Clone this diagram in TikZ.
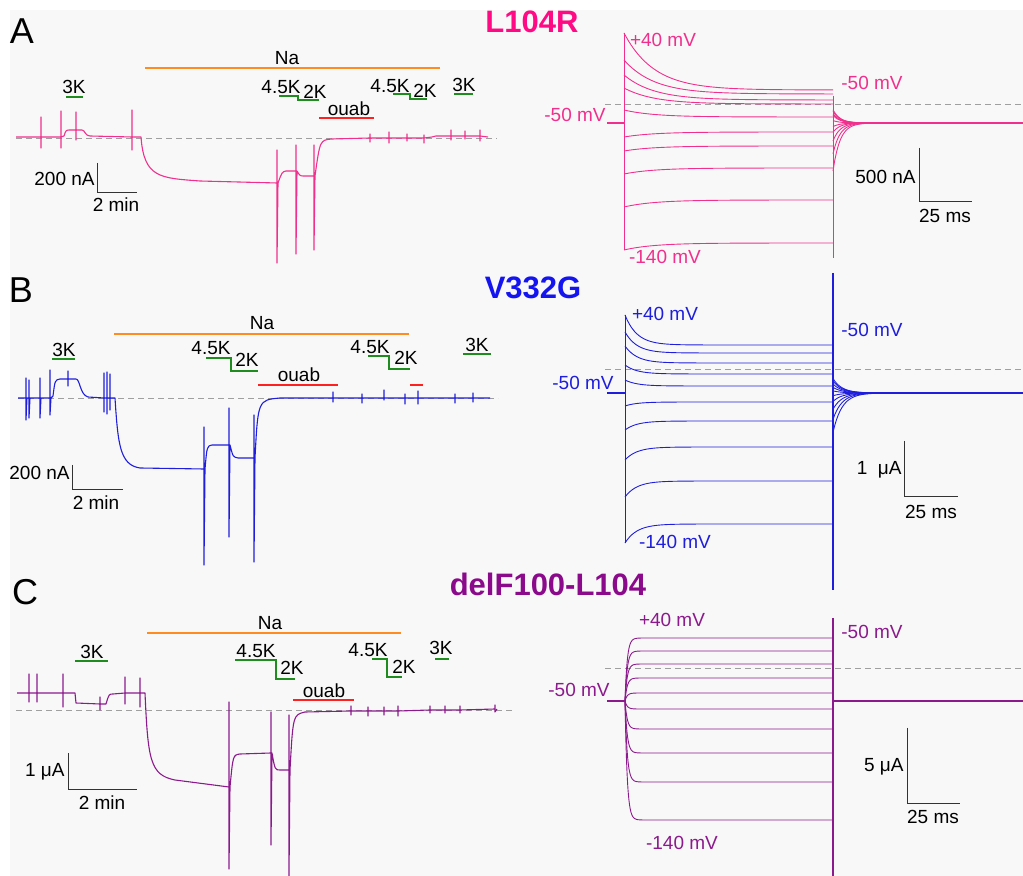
\documentclass[tikz,border=0pt]{standalone}
\usepackage{fontspec}
\setmainfont{Liberation Sans}
\usetikzlibrary{positioning}

\definecolor{bgc}{HTML}{F8F8F8}
\definecolor{pinkT}{HTML}{F0308C}
\definecolor{pinkH}{HTML}{FF0A84}
\definecolor{blueT}{HTML}{1E1EDC}
\definecolor{blueH}{HTML}{1414F0}
\definecolor{purpT}{HTML}{8C1A8C}
\definecolor{purpH}{HTML}{8B0A8B}
\definecolor{orangeC}{HTML}{FF8C1E}
\definecolor{greenC}{HTML}{1E8C1E}
\definecolor{redC}{HTML}{FF2020}

\begin{document}
\begin{tikzpicture}[x=0.5pt,y=-0.5pt]
    % Define styles
    \tikzstyle{lbl} = [inner sep=0pt, font=\fontsize{9.5}{11}\selectfont]
    \tikzstyle{panel} = [inner sep=0pt, font=\fontsize{18}{20}\selectfont]
    \tikzstyle{title} = [inner sep=0pt, font=\fontsize{15.5}{18}\selectfont\bfseries]
    \tikzstyle{base} = [gray!75, dash pattern=on 3pt off 2pt, line width=0.45pt]
    \tikzstyle{scalebar} = [black!80, line width=0.5pt]
    \tikzstyle{nabar} = [orangeC, line width=1pt]
    \tikzstyle{kbar} = [greenC, line width=1pt]
    \tikzstyle{oubar} = [redC, line width=1pt]
    \tikzstyle{slow} = [line width=0.55pt, line join=round]
    \tikzstyle{fast} = [line width=0.45pt, line join=round]

    \useasboundingbox (0,0) rectangle (1023,876);
    \fill[bgc] (10,10) rectangle (1023,876);

    % ---------------- Panel A ----------------
    \node[panel] (panA) at (22,31) {A};
    \node[title, text=pinkH] (titA) at (532,22) {L104R};
    \node[lbl] (naA) at (287,58) {Na};
    \draw[nabar] (145,68) -- (440,68);
    \node[lbl] (k3aA) at (74,87) {3K};
    \draw[kbar] (66,97) -- (83,97);
    \node[lbl] (k45aA) at (281,87) {4.5K};
    \node[lbl] (k2aA) at (315,92) {2K};
    \draw[kbar] (279,96) -- (298,96) -- (298,100) -- (319,100);
    \node[lbl] (ouA) at (349,109) {ouab};
    \draw[oubar] (319,118) -- (374,118);
    \node[lbl] (k45bA) at (390,86) {4.5K};
    \node[lbl] (k2bA) at (425,91) {2K};
    \draw[kbar] (393,94) -- (410,94) -- (410,99) -- (427,99);
    \node[lbl] (k3bA) at (464,85) {3K};
    \draw[kbar] (454,94) -- (473,94);
    \draw[base] (16,138) -- (497,138);
    \draw[slow, pinkT] (16,137) -- (41,137) -- (41,117) -- (41,148) -- (41,137) -- (61,137) -- (61,111) -- (61,148) -- (61,137)
        -- (64,136) .. controls (66,130) .. (70,130) -- (76,130) -- (76,112) -- (76,140) -- (76,130) -- (82,130)
        .. controls (85,130) and (85,136) .. (90,136) -- (132,137) -- (132,110) -- (132,150) -- (132,137) -- (141,137)
        .. controls (144,178) and (160,178) .. (200,181) -- (277,183) -- (277,150) -- (277,263) -- (278,183)
        .. controls (282,172) .. (286,171) -- (296,171) -- (296,145) -- (296,254) -- (297,171)
        .. controls (300,176) .. (304,176) -- (314,176) -- (314,145) -- (314,250) -- (315,176)
        .. controls (320,140) .. (332,139) -- (370,138) -- (370,134) -- (370,142) -- (370,138)
        -- (389,138) -- (389,132) -- (389,143) -- (389,138) -- (407,138) -- (407,134) -- (407,141) -- (407,138)
        -- (424,138) -- (424,135) -- (424,143) -- (424,138) -- (432,137) -- (436,136)
        -- (451,136) -- (451,130) -- (451,140) -- (451,136) -- (465,136) -- (465,131) -- (465,139) -- (465,136)
        -- (480,136) -- (480,130) -- (480,141) -- (480,136) -- (488,137);
    \draw[scalebar] (97,163) -- (97,193) -- (137,193);
    \node[lbl, anchor=east] (yscA) at (95,179) {200 nA};
    \node[lbl] (xscA) at (116,205) {2 min};
    % steps A
    \draw[base] (605,104) -- (1023,104);
    \foreach \lv/\pk in {90/33, 94/60, 100/75, 104/88, 117/110, 132/137, 146/151, 168/174, 200/207, 243/250} {
        \draw[fast, pinkT] plot[domain=0:209, samples=90] ({624+\x}, {\lv+(\pk-\lv)*exp(-\x/30)});
        \draw[fast, pinkT] plot[domain=0:70, samples=40] ({833+\x}, {123+(\lv-123)*0.4*exp(-\x/7)});
    }
    \draw[fast, pinkT] (624,33) -- (624,250);
    \draw[fast, pinkT] (833,96) -- (833,258);
    \draw[pinkT, line width=0.9pt] (607,123) -- (624,123);
    \draw[pinkT, line width=0.9pt] (850,123) -- (1023,123);
    \node[lbl, text=pinkT] (hiA) at (663,40) {+40 mV};
    \node[lbl, text=pinkT] (rtA) at (872,83) {-50 mV};
    \node[lbl, text=pinkT] (hdA) at (575,115) {-50 mV};
    \node[lbl, text=pinkT] (loA) at (665,257) {-140 mV};
    \draw[scalebar] (919,148) -- (919,202) -- (972,202);
    \node[lbl, anchor=east] (ysA) at (916,177) {500 nA};
    \node[lbl] (xsA) at (945,216) {25 ms};

    % ---------------- Panel B ----------------
    \node[panel] (panB) at (21,290) {B};
    \node[title, text=blueH] (titB) at (533,288) {V332G};
    \node[lbl] (naB) at (262,323) {Na};
    \draw[nabar] (114,334) -- (409,334);
    \node[lbl] (k3aB) at (64,350) {3K};
    \draw[kbar] (52,359) -- (75,359);
    \node[lbl] (k45aB) at (211,348) {4.5K};
    \node[lbl] (k2aB) at (247,360) {2K};
    \draw[kbar] (206,358) -- (231,358) -- (231,371) -- (258,371);
    \node[lbl] (ouB) at (299,375) {ouab};
    \draw[oubar] (258,385) -- (338,385);
    \node[lbl] (k45bB) at (370,347) {4.5K};
    \node[lbl] (k2bB) at (406,358) {2K};
    \draw[kbar] (368,356) -- (389,356) -- (389,369) -- (410,369);
    \draw[oubar] (410,385) -- (423,385);
    \node[lbl] (k3bB) at (477,345) {3K};
    \draw[kbar] (463,354) -- (491,354);
    \draw[base] (18,398) -- (498,398);
    \draw[slow, blueT] (18,398) -- (26,398) -- (26,378) -- (26,420) -- (27,398) -- (29,398) -- (29,380) -- (29,418) -- (30,398)
        -- (40,398) -- (40,378) -- (40,418) -- (41,398) -- (50,398) -- (50,370) -- (50,415) -- (51,398)
        -- (53,396) .. controls (55,380) .. (60,379) -- (68,379) -- (68,371) -- (68,386) -- (68,379) -- (76,379)
        .. controls (80,379) and (80,395) .. (88,397) -- (104,398) -- (104,373) -- (104,412) -- (104,398)
        -- (107,398) -- (107,372) -- (107,414) -- (107,398) -- (110,398) -- (110,374) -- (110,410) -- (110,398) -- (115,398)
        .. controls (118,445) and (120,465) .. (140,468) -- (204,469) -- (204,427) -- (204,565) -- (205,469)
        .. controls (207,446) .. (212,445) -- (229,445) -- (229,408) -- (229,537) -- (230,445)
        .. controls (233,457) .. (238,458) -- (254,458) -- (254,415) -- (254,562) -- (255,458)
        .. controls (258,400) .. (280,398) -- (333,398) -- (333,392) -- (333,402) -- (333,398)
        -- (362,398) -- (362,394) -- (362,403) -- (362,398) -- (384,398) -- (384,390) -- (384,400) -- (384,398)
        -- (405,398) -- (405,394) -- (405,404) -- (405,398) -- (418,398) -- (418,391) -- (418,404) -- (418,398)
        -- (455,398) -- (455,394) -- (455,403) -- (455,398) -- (473,398) -- (473,393) -- (473,402) -- (473,398) -- (490,398);
    \draw[scalebar] (72,465) -- (72,490) -- (123,490);
    \node[lbl, anchor=east] (yscB) at (70,473) {200 nA};
    \node[lbl] (xscB) at (96,503) {2 min};
    % steps B
    \draw[base] (605,369) -- (1023,369);
    \foreach \lv/\pk in {345/315, 353/332, 363/346, 374/365, 386/380, 402/406, 421/430, 447/460, 481/497, 524/543} {
        \draw[fast, blueT] plot[domain=0:208, samples=90] ({625+\x}, {\lv+(\pk-\lv)*exp(-\x/12)});
        \draw[fast, blueT] plot[domain=0:70, samples=40] ({833+\x}, {393+(\lv-393)*0.3*exp(-\x/9)});
    }
    \draw[fast, blueT] (625,315) -- (625,543);
    \draw[blueT, line width=0.6pt] (833,273) -- (833,590);
    \draw[blueT, line width=0.8pt] (607,393) -- (625,393);
    \draw[blueT, line width=0.8pt] (860,393) -- (1023,393);
    \node[lbl, text=blueT] (hiB) at (665,314) {+40 mV};
    \node[lbl, text=blueT] (rtB) at (872,330) {-50 mV};
    \node[lbl, text=blueT] (hdB) at (583,383) {-50 mV};
    \node[lbl, text=blueT] (loB) at (675,542) {-140 mV};
    \draw[scalebar] (904,441) -- (904,497) -- (958,497);
    \node[lbl, anchor=east] (ysB) at (902,470) {1\ \ μA};
    \node[lbl] (xsB) at (931,512) {25 ms};

    % ---------------- Panel C ----------------
    \node[panel] (panC) at (25,592) {C};
    \node[title, text=purpH] (titC) at (548,584) {delF100-L104};
    \node[lbl] (naC) at (270,623) {Na};
    \draw[nabar] (147,633) -- (401,633);
    \node[lbl] (k3aC) at (92,652) {3K};
    \draw[kbar] (75,661) -- (108,661);
    \node[lbl] (k45aC) at (256,651) {4.5K};
    \node[lbl] (k2aC) at (292,668) {2K};
    \draw[kbar] (235,660) -- (276,660) -- (276,679) -- (295,679);
    \node[lbl] (ouC) at (324,691) {ouab};
    \draw[oubar] (293,700) -- (354,700);
    \node[lbl] (k45bC) at (368,650) {4.5K};
    \node[lbl] (k2bC) at (404,667) {2K};
    \draw[kbar] (372,659) -- (387,659) -- (387,677) -- (402,677);
    \node[lbl] (k3bC) at (441,648) {3K};
    \draw[kbar] (435,659) -- (449,659);
    \draw[base] (16,710) -- (515,710);
    \draw[slow, purpT] (17,693) -- (29,693) -- (29,674) -- (29,702) -- (29,693) -- (37,693) -- (37,674) -- (37,702) -- (37,693)
        -- (63,693) -- (63,674) -- (63,707) -- (63,693) -- (75,693) -- (76,703) -- (100,704) -- (100,697) -- (100,710) -- (100,704)
        -- (106,704) .. controls (109,694) .. (113,694) -- (125,693) -- (125,677) -- (125,704) -- (125,693)
        -- (140,693) -- (140,678) -- (140,707) -- (140,693) -- (145,693)
        .. controls (148,760) and (150,775) .. (175,780) -- (229,787) -- (229,702) -- (229,869) -- (230,787)
        .. controls (233,755) .. (240,754) -- (271,753) -- (271,712) -- (271,845) -- (272,753)
        .. controls (275,770) .. (280,770) -- (289,770) -- (289,715) -- (289,876) -- (290,770)
        .. controls (293,715) .. (305,712) -- (351,711) -- (351,706) -- (351,715) -- (351,711)
        -- (368,711) -- (368,707) -- (368,716) -- (368,711) -- (384,711) -- (384,707) -- (384,715) -- (384,711)
        -- (398,711) -- (398,706) -- (398,716) -- (398,711) -- (430,710) -- (430,706) -- (430,713) -- (430,710)
        -- (445,710) -- (445,706) -- (445,713) -- (445,710) -- (460,710) -- (460,706) -- (460,713) -- (460,710)
        -- (495,709) -- (495,705) -- (495,712) -- (497,709);
    \draw[scalebar] (68,753) -- (68,789) -- (137,789);
    \node[lbl, anchor=east] (yscC) at (65,772) {1 μA};
    \node[lbl] (xscC) at (102,803) {2 min};
    % steps C
    \draw[base] (605,668) -- (1023,668);
    \foreach \lv in {638, 651, 664, 678, 693, 709, 729, 753, 782, 820} {
        \draw[fast, purpT] plot[domain=0:24, samples=49] ({625+\x}, {\lv+(701-\lv)*exp(-\x/2.2)}) -- (833,\lv);
    }
    \draw[purpT, line width=0.6pt] (833,618) -- (833,876);
    \draw[purpT, line width=0.8pt] (607,701) -- (625,701);
    \draw[purpT, line width=0.8pt] (833,701) -- (1023,701);
    \node[lbl, text=purpT] (hiC) at (672,620) {+40 mV};
    \node[lbl, text=purpT] (rtC) at (872,632) {-50 mV};
    \node[lbl, text=purpT] (hdC) at (579,690) {-50 mV};
    \node[lbl, text=purpT] (loC) at (682,843) {-140 mV};
    \draw[scalebar] (907,728) -- (907,803) -- (960,803);
    \node[lbl, anchor=east] (ysC) at (904,767) {5 μA};
    \node[lbl] (xsC) at (933,817) {25 ms};
\end{tikzpicture}
\end{document}
